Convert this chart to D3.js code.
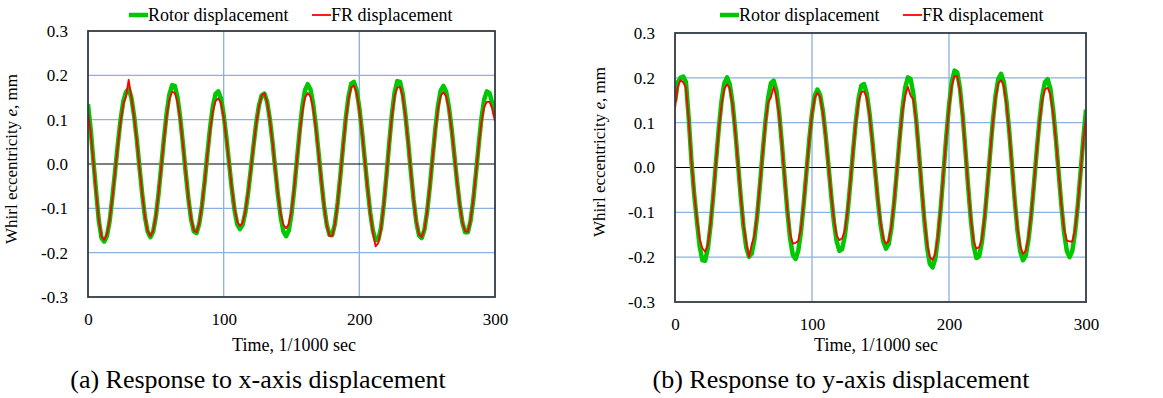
<!DOCTYPE html>
<meta charset="utf-8">
<script src="https://d3js.org/d3.v7.min.js"></script>
<style>
  body { margin: 0; background: #fff; }
  text { font-family: "Liberation Serif", "Times New Roman", serif; fill: #000; }
</style>
<div id="chart"></div>
<script>

// time axis, 1/1000 sec (one sample every 2 ms)
var timeMs = d3.range(0, 301, 2);

// (a) x-axis displacement
var rotorX = [
  0.135, 0.078, 0.006, -0.062, -0.129, -0.167, -0.175, -0.162, -0.128, -0.074,
  -0.015, 0.045, 0.100, 0.141, 0.162, 0.170, 0.149, 0.108, 0.054, -0.009,
  -0.069, -0.120, -0.153, -0.165, -0.153, -0.119, -0.067, -0.005, 0.058, 0.115,
  0.157, 0.178, 0.176, 0.150, 0.104, 0.045, -0.019, -0.078, -0.125, -0.152,
  -0.156, -0.135, -0.095, -0.039, 0.023, 0.082, 0.129, 0.158, 0.164, 0.148,
  0.111, 0.060, 0.002, -0.056, -0.104, -0.136, -0.147, -0.137, -0.109, -0.065,
  -0.013, 0.042, 0.093, 0.132, 0.155, 0.159, 0.141, 0.102, 0.050, -0.011,
  -0.070, -0.119, -0.152, -0.163, -0.150, -0.113, -0.057, 0.009, 0.074, 0.130,
  0.167, 0.180, 0.168, 0.135, 0.085, 0.024, -0.038, -0.095, -0.137, -0.160,
  -0.160, -0.135, -0.088, -0.027, 0.040, 0.103, 0.152, 0.181, 0.185, 0.166,
  0.127, 0.073, 0.010, -0.053, -0.109, -0.150, -0.172, -0.171, -0.144, -0.092,
  -0.026, 0.046, 0.112, 0.162, 0.187, 0.185, 0.158, 0.110, 0.049, -0.018,
  -0.081, -0.131, -0.161, -0.167, -0.148, -0.107, -0.050, 0.015, 0.079, 0.132,
  0.166, 0.176, 0.163, 0.129, 0.080, 0.021, -0.039, -0.092, -0.133, -0.154,
  -0.154, -0.128, -0.081, -0.020, 0.044, 0.103, 0.145, 0.164, 0.160, 0.137,
  0.110
];
var frX = [
  0.118, 0.070, 0.004, -0.066, -0.127, -0.164, -0.171, -0.158, -0.126, -0.076,
  -0.017, 0.042, 0.094, 0.135, 0.152, 0.190, 0.150, 0.106, 0.052, -0.010,
  -0.068, -0.119, -0.152, -0.163, -0.151, -0.118, -0.066, -0.006, 0.055, 0.108,
  0.146, 0.163, 0.160, 0.140, 0.100, 0.044, -0.018, -0.077, -0.123, -0.150,
  -0.154, -0.134, -0.094, -0.040, 0.020, 0.076, 0.118, 0.142, 0.148, 0.138,
  0.106, 0.058, 0.002, -0.054, -0.100, -0.130, -0.140, -0.133, -0.106, -0.064,
  -0.013, 0.040, 0.090, 0.130, 0.154, 0.160, 0.140, 0.101, 0.049, -0.011,
  -0.068, -0.112, -0.137, -0.145, -0.136, -0.105, -0.054, 0.008, 0.068, 0.118,
  0.150, 0.160, 0.152, 0.125, 0.080, 0.022, -0.038, -0.095, -0.138, -0.162,
  -0.163, -0.136, -0.088, -0.027, 0.038, 0.099, 0.146, 0.173, 0.177, 0.160,
  0.123, 0.071, 0.009, -0.053, -0.110, -0.155, -0.186, -0.178, -0.146, -0.092,
  -0.026, 0.044, 0.107, 0.153, 0.172, 0.174, 0.152, 0.107, 0.048, -0.018,
  -0.080, -0.130, -0.159, -0.165, -0.147, -0.106, -0.050, 0.014, 0.075, 0.124,
  0.154, 0.162, 0.153, 0.124, 0.078, 0.020, -0.039, -0.091, -0.132, -0.152,
  -0.153, -0.127, -0.080, -0.020, 0.040, 0.094, 0.128, 0.140, 0.140, 0.125,
  0.095
];

// (b) y-axis displacement
var rotorY = [
  0.147, 0.190, 0.200, 0.203, 0.190, 0.110, 0.015, -0.060, -0.120, -0.176,
  -0.207, -0.208, -0.180, -0.128, -0.060, 0.016, 0.089, 0.149, 0.188, 0.201,
  0.185, 0.144, 0.082, 0.008, -0.066, -0.132, -0.178, -0.199, -0.192, -0.160,
  -0.107, -0.039, 0.034, 0.102, 0.155, 0.188, 0.194, 0.172, 0.123, 0.054,
  -0.022, -0.097, -0.158, -0.195, -0.204, -0.185, -0.142, -0.079, -0.008, 0.062,
  0.121, 0.160, 0.174, 0.161, 0.125, 0.070, 0.005, -0.062, -0.122, -0.165,
  -0.186, -0.182, -0.152, -0.100, -0.034, 0.037, 0.103, 0.154, 0.183, 0.186,
  0.164, 0.121, 0.062, -0.005, -0.071, -0.127, -0.165, -0.181, -0.171, -0.135,
  -0.077, -0.007, 0.066, 0.131, 0.178, 0.201, 0.197, 0.164, 0.108, 0.035,
  -0.044, -0.118, -0.178, -0.215, -0.223, -0.203, -0.156, -0.089, -0.011, 0.069,
  0.138, 0.190, 0.216, 0.212, 0.177, 0.116, 0.038, -0.044, -0.119, -0.175,
  -0.202, -0.198, -0.167, -0.114, -0.044, 0.031, 0.103, 0.161, 0.198, 0.209,
  0.191, 0.146, 0.080, 0.003, -0.075, -0.141, -0.187, -0.207, -0.197, -0.162,
  -0.107, -0.038, 0.036, 0.104, 0.158, 0.190, 0.197, 0.176, 0.129, 0.064,
  -0.010, -0.084, -0.145, -0.186, -0.200, -0.186, -0.145, -0.085, -0.012, 0.063,
  0.129
];
var frY = [
  0.132, 0.180, 0.195, 0.190, 0.178, 0.105, 0.015, -0.058, -0.116, -0.160,
  -0.180, -0.188, -0.172, -0.125, -0.060, 0.014, 0.085, 0.140, 0.175, 0.186,
  0.176, 0.140, 0.080, 0.008, -0.064, -0.128, -0.168, -0.200, -0.172, -0.152,
  -0.104, -0.038, 0.032, 0.097, 0.145, 0.156, 0.180, 0.158, 0.118, 0.052,
  -0.022, -0.094, -0.148, -0.170, -0.168, -0.164, -0.135, -0.077, -0.008, 0.060,
  0.118, 0.155, 0.167, 0.157, 0.122, 0.068, 0.004, -0.060, -0.116, -0.152,
  -0.162, -0.158, -0.140, -0.096, -0.033, 0.036, 0.100, 0.148, 0.168, 0.170,
  0.156, 0.117, 0.060, -0.005, -0.069, -0.122, -0.158, -0.170, -0.163, -0.130,
  -0.075, -0.007, 0.064, 0.125, 0.160, 0.180, 0.160, 0.152, 0.105, 0.034,
  -0.043, -0.114, -0.170, -0.200, -0.206, -0.192, -0.150, -0.087, -0.011, 0.066,
  0.134, 0.182, 0.204, 0.203, 0.172, 0.113, 0.037, -0.043, -0.115, -0.165,
  -0.181, -0.178, -0.160, -0.110, -0.043, 0.030, 0.100, 0.155, 0.188, 0.195,
  0.182, 0.140, 0.078, 0.003, -0.073, -0.136, -0.176, -0.193, -0.186, -0.156,
  -0.104, -0.038, 0.034, 0.100, 0.150, 0.174, 0.178, 0.163, 0.122, 0.062,
  -0.010, -0.082, -0.138, -0.163, -0.165, -0.165, -0.140, -0.085, -0.014, 0.058,
  0.115
];

var xTicks = [0, 100, 200, 300];
var yTicks = [-0.3, -0.2, -0.1, 0.0, 0.1, 0.2, 0.3];
var seriesNames = ["Rotor displacement", "FR displacement"];
var seriesColors = ["#00c800", "#ff0000"];
var captions = ["(a) Response to x-axis displacement", "(b) Response to y-axis displacement"];

var serif = "Liberation Serif";

var panels = [
  {id: "a", rotor: rotorX, fr: frX, caption: captions[0],
   left: 88, right: 495, top: 31, bottom: 297,
   ylabX: 17, ylabY: 159, legendX: 129, captionX: 258, timeX: 294},
  {id: "b", rotor: rotorY, fr: frY, caption: captions[1],
   left: 675, right: 1086, top: 33, bottom: 302,
   ylabX: 605, ylabY: 152, legendX: 720, captionX: 841, timeX: 876}
];

var svg = d3.select("#chart")
  .append("svg")
    .attr("width", 1163)
    .attr("height", 398);

panels.forEach(function(p) {
  var x = d3.scaleLinear().domain([0, 300]).range([p.left, p.right]);
  var y = d3.scaleLinear().domain([-0.3, 0.3]).range([p.bottom, p.top]);
  var g = svg.append("g");

  g.append("clipPath").attr("id", "clip-" + p.id)
    .append("rect")
      .attr("x", p.left).attr("y", p.top)
      .attr("width", p.right - p.left).attr("height", p.bottom - p.top);

  // grid lines
  g.selectAll(".hgrid")
    .data(yTicks.filter(function(d) { return Math.abs(d) > 0.01 && Math.abs(d) < 0.29; }))
    .enter().append("line")
      .attr("x1", p.left).attr("x2", p.right)
      .attr("y1", function(d) { return y(d); }).attr("y2", function(d) { return y(d); })
      .attr("stroke", "#8db0e0").attr("stroke-width", 1.3);
  g.selectAll(".vgrid")
    .data(xTicks.slice(1, 3))
    .enter().append("line")
      .attr("y1", p.top).attr("y2", p.bottom)
      .attr("x1", function(d) { return x(d); }).attr("x2", function(d) { return x(d); })
      .attr("stroke", "#8db0e0").attr("stroke-width", 1.3);
  g.append("line")
    .attr("x1", p.left).attr("x2", p.right)
    .attr("y1", y(0)).attr("y2", y(0))
    .attr("stroke", "#000").attr("stroke-width", 1.2);

  // data lines
  var line = d3.line()
    .x(function(d, i) { return x(timeMs[i]); })
    .y(function(d) { return y(d); });
  var lines = g.append("g").attr("clip-path", "url(#clip-" + p.id + ")");
  lines.append("path").datum(p.rotor)
    .attr("d", line).attr("fill", "none")
    .attr("stroke", seriesColors[0]).attr("stroke-width", 4.5)
    .attr("stroke-linejoin", "round");
  lines.append("path").datum(p.fr)
    .attr("d", line).attr("fill", "none")
    .attr("stroke", seriesColors[1]).attr("stroke-width", 1.8)
    .attr("stroke-linejoin", "round");

  // frame
  g.append("rect")
    .attr("x", p.left).attr("y", p.top)
    .attr("width", p.right - p.left).attr("height", p.bottom - p.top)
    .attr("fill", "none").attr("stroke", "#333a44").attr("stroke-width", 1.8);

  // axes (labels only)
  var yAxis = g.append("g")
    .attr("transform", "translate(" + p.left + ",0)")
    .call(d3.axisLeft(y).tickValues(yTicks).tickSize(0).tickPadding(20)
      .tickFormat(function(d) { return d.toFixed(1); }));
  yAxis.attr("font-family", serif).attr("font-size", 17);
  yAxis.select(".domain").remove();
  yAxis.selectAll("text").attr("font-family", serif).style("font-family", serif);

  var xAxis = g.append("g")
    .attr("transform", "translate(0," + p.bottom + ")")
    .call(d3.axisBottom(x).tickValues(xTicks).tickSize(0).tickPadding(16)
      .tickFormat(d3.format("d")));
  xAxis.attr("font-family", serif).attr("font-size", 17);
  xAxis.select(".domain").remove();
  xAxis.selectAll("text").attr("font-family", serif).style("font-family", serif);

  // axis titles
  g.append("text")
    .attr("x", p.timeX).attr("y", 351)
    .attr("text-anchor", "middle").style("font-size", "18px")
    .text("Time, 1/1000 sec");

  var yl = g.append("text")
    .attr("transform", "translate(" + p.ylabX + "," + p.ylabY + ") rotate(-90)")
    .attr("text-anchor", "middle").style("font-size", "17px");
  yl.append("tspan").text("Whirl eccentricity ");
  yl.append("tspan").style("font-style", "italic").text("e");
  yl.append("tspan").text(", mm");

  // caption
  g.append("text")
    .attr("x", p.captionX).attr("y", 388)
    .attr("text-anchor", "middle").style("font-size", "26px")
    .text(p.caption);

  // legend
  var lg = g.append("g").attr("transform", "translate(" + p.legendX + ",15)");
  lg.append("line").attr("x1", 0).attr("x2", 19).attr("y1", 0).attr("y2", 0)
    .attr("stroke", seriesColors[0]).attr("stroke-width", 4.5);
  lg.append("text").attr("x", 19).attr("y", 6).style("font-size", "18px").text(seriesNames[0]);
  lg.append("line").attr("x1", 183).attr("x2", 202).attr("y1", 0).attr("y2", 0)
    .attr("stroke", seriesColors[1]).attr("stroke-width", 1.8);
  lg.append("text").attr("x", 202).attr("y", 6).style("font-size", "18px").text(seriesNames[1]);
});

</script>
